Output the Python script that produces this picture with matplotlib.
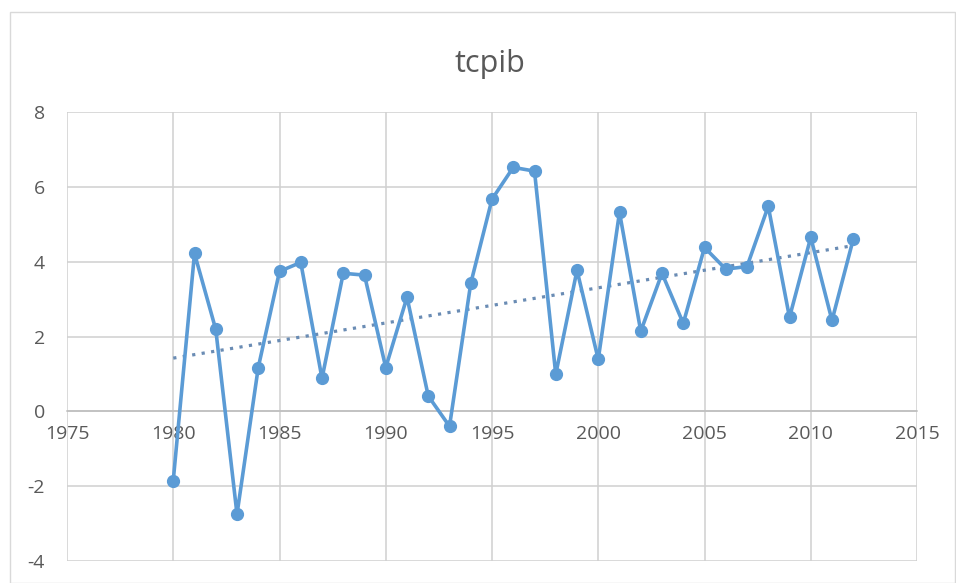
import numpy as np
import matplotlib
matplotlib.use("Agg")
import matplotlib.pyplot as plt
from matplotlib.patches import Rectangle

plt.rcParams['font.family'] = ['Open Sans', 'DejaVu Sans']
plt.rcParams['axes.unicode_minus'] = False

years = list(range(1980, 2013))
tcpib = [-1.85, 4.22, 2.19, -2.75, 1.17, 3.74, 3.98, 0.88, 3.69, 3.64,
         1.17, 3.05, 0.41, -0.40, 3.42, 5.67, 6.52, 6.42, 0.99, 3.77,
         1.39, 5.32, 2.14, 3.69, 2.35, 4.38, 3.80, 3.87, 5.48, 2.51,
         4.65, 2.43, 4.60]
title = "tcpib"
xticks = [1975, 1980, 1985, 1990, 1995, 2000, 2005, 2010, 2015]
yticks = [-4, -2, 0, 2, 4, 6, 8]

W, H = 956, 583
fig = plt.figure(figsize=(W / 100, H / 100), dpi=100)
fig.patch.set_facecolor('white')

# chart frame
fig.patches.append(Rectangle((10 / W, 0), (955 - 10) / W, 1 - 12 / H,
                             transform=fig.transFigure, fill=False,
                             edgecolor='#D9D9D9', linewidth=1.0))

ax = fig.add_axes([67 / W, 1 - 561 / H, (917 - 67) / W, (561 - 112) / H])
ax.set_xlim(1975, 2015)
ax.set_ylim(-4, 8)
ax.set_xticks(xticks)
ax.set_yticks(yticks)
ax.grid(True, color='#D0D0D0', linewidth=1.1)
ax.set_axisbelow(True)
for s in ['top', 'right', 'left']:
    ax.spines[s].set_visible(False)
ax.spines['bottom'].set_position(('data', 0))
ax.spines['bottom'].set_color('#BDBDBD')
ax.spines['bottom'].set_linewidth(1.1)
ax.tick_params(axis='both', length=0, labelsize=14, labelcolor='#595959')
ax.tick_params(axis='x', pad=10)
ax.tick_params(axis='y', pad=16)

x = np.array(years)
y = np.array(tcpib)
ax.plot(x, y, color='#5B9BD5', linewidth=2.6, marker='o', markersize=8.5,
        markerfacecolor='#5B9BD5', markeredgecolor='#5B9BD5', zorder=3)

# linear trend line
coef = np.polyfit(x, y, 1)
xt = np.array([years[0], years[-1]])
ax.plot(xt, np.polyval(coef, xt), color='#6A8CB4', linewidth=2.3,
        linestyle=(0, (1, 2.0)), zorder=2)

fig.text(490 / W, 1 - 64 / H, title, ha='center', va='center',
         fontsize=22, color='#595959')

fig.savefig('out.png', dpi=100, facecolor='white')
